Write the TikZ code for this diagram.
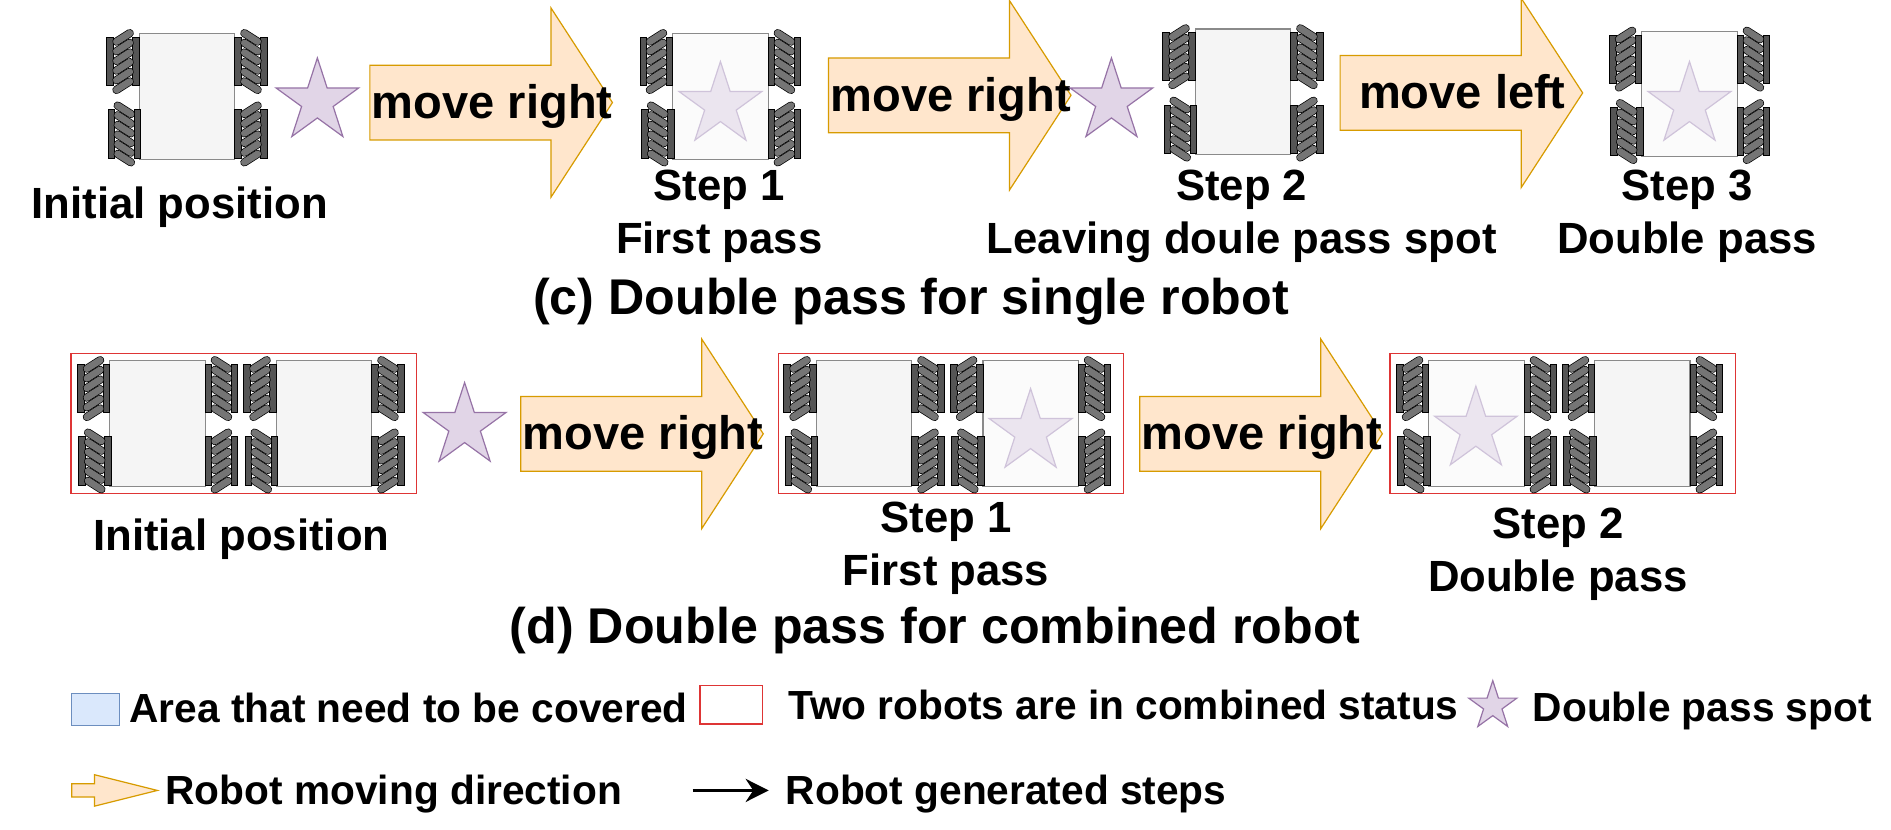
\documentclass[tikz,border=0pt]{standalone}
\usepackage{fontspec}
\setmainfont{Liberation Sans}
\usetikzlibrary{shapes,arrows,arrows.meta,positioning}
\definecolor{bodyfill}{HTML}{F5F5F5}
\definecolor{bodyfade}{HTML}{FBFBFB}
\definecolor{bodyline}{HTML}{8A8A8A}
\definecolor{railgrey}{HTML}{555555}
\definecolor{rollergrey}{HTML}{757575}
\definecolor{movefill}{HTML}{FFE6CC}
\definecolor{moveline}{HTML}{D79B00}
\definecolor{spotfill}{HTML}{E1D5E7}
\definecolor{spotline}{HTML}{9673A6}
\definecolor{spotfade}{HTML}{EBE5EF}
\definecolor{spotfadeline}{HTML}{CFC3DA}
\definecolor{areafill}{HTML}{DAE8FC}
\definecolor{arealine}{HTML}{6C8EBF}
\definecolor{combline}{HTML}{DE3535}
\tikzstyle{movearrow} = [single arrow, draw=moveline, fill=movefill, line width=1pt,
    inner sep=30.5pt, minimum height=201pt, single arrow head extend=47.5pt,
    single arrow head indent=0pt, single arrow tip angle=114, anchor=tail]
\tikzstyle{movetext} = [font=\fontsize{39}{39}\selectfont\bfseries, inner sep=0pt,
    text height=29pt, text depth=3pt]
\tikzstyle{steptext} = [font=\fontsize{36.2}{36}\selectfont\bfseries, inner sep=0pt,
    text height=29pt, text depth=3pt, node distance=44pt]
\tikzstyle{titletext} = [font=\fontsize{41.6}{42}\selectfont\bfseries, inner sep=0pt,
    text height=33pt, text depth=4pt]
\tikzstyle{legendtext} = [font=\fontsize{33.7}{34}\selectfont\bfseries, inner sep=0pt,
    text height=28pt, text depth=4pt, anchor=west]
\tikzstyle{spot} = [star, star points=5, star point ratio=2.618, draw=spotline,
    fill=spotfill, line width=1pt, inner sep=0pt, minimum size=72pt]
\tikzstyle{fadespot} = [spot, draw=spotfadeline, fill=spotfade]
\tikzstyle{combbox} = [draw=combline, line width=1.2pt, inner sep=0pt]
\tikzstyle{roller} = [draw=black, line width=.6pt, double=rollergrey,
    double distance=5.6pt, line cap=round]
\tikzset{
  pics/wheel/.style={code={
    \draw [fill=railgrey, line width=.6pt] (-13.5,-20) rectangle (-8,20);
    \draw [fill=railgrey, line width=.6pt] (8,-20) rectangle (13.5,20);
    \foreach \rollery in {-20,-12,...,20}
      \draw [roller] (-5.5,\rollery+3.5) -- (5.5,\rollery-3.5);
  }},
  pics/robot/.style={code={
    \draw [fill=#1, draw=bodyline, line width=1pt] (-39.5,-52) rectangle (39.5,52);
    \pic at (-53,-29) {wheel};
    \pic[xscale=-1] at (53,-29) {wheel};
    \pic[xscale=-1] at (-52,31) {wheel};
    \pic at (53,31) {wheel};
  }}
}

\begin{document}
\begin{tikzpicture}[x=1pt, y=-1pt, >=latex']
    \useasboundingbox (0,0) rectangle (1567,687);

    % Row (c): the single robot
    \pic (robinit) at (155,80) {robot=bodyfill};
    \node [spot] (spotinit) at (263,84) {};
    \node [movearrow] (moveone) at (306,85) {};
    \node [movetext, right=2pt of moveone.tail] (moveonetext) {move right};
    \pic (robone) at (597,80) {robot=bodyfade};
    \node [fadespot] (spotone) at (597,87) {};
    \node [movearrow] (movetwo) at (686,79) {};
    \node [movetext, right=2pt of movetwo.tail] (movetwotext) {move right};
    \node [spot] (spottwo) at (921,84) {};
    \pic (robtwo) at (1030,76) {robot=bodyfill};
    \node [movearrow] (movethree) at (1110,77) {};
    \node [movetext, right=16pt of movethree.tail] (movethreetext) {move left};
    \pic (robthree) at (1400,78) {robot=bodyfade};
    \node [fadespot] (spotthree) at (1400,87) {};

    % Labels of row (c)
    \node [steptext] (initc) at (149,168) {Initial position};
    \node [steptext] (stepone) at (596,153) {Step 1};
    \node [steptext, below of=stepone] (passone) {First pass};
    \node [steptext] (steptwo) at (1029,153) {Step 2};
    \node [steptext, below of=steptwo] (passtwo) {Leaving doule pass spot};
    \node [steptext] (stepthree) at (1398,153) {Step 3};
    \node [steptext, below of=stepthree] (passthree) {Double pass};
    \node [titletext] (titlec) at (755,246) {(c) Double pass for single robot};

    % Row (d): the combined robot
    \node [combbox, minimum width=286pt, minimum height=116pt] (combinit) at (202,351) {};
    \pic (robinita) at (130.5,351) {robot=bodyfill};
    \pic (robinitb) at (268.5,351) {robot=bodyfill};
    \node [spot] (spotd) at (385,353) {};
    \node [movearrow] (movefour) at (431,359.5) {};
    \node [movetext, right=2pt of movefour.tail] (movefourtext) {move right};
    \node [combbox, minimum width=286pt, minimum height=116pt] (combone) at (788,351) {};
    \pic (robonea) at (716,351) {robot=bodyfill};
    \pic (roboneb) at (854,351) {robot=bodyfade};
    \node [fadespot] (spotdone) at (854,358) {};
    \node [movearrow] (movefive) at (944,359.5) {};
    \node [movetext, right=2pt of movefive.tail] (movefivetext) {move right};
    \node [combbox, minimum width=286pt, minimum height=116pt] (combtwo) at (1295,351) {};
    \pic (robtwoa) at (1223.5,351) {robot=bodyfade};
    \pic (robtwob) at (1361,351) {robot=bodyfill};
    \node [fadespot] (spotdtwo) at (1223,356) {};

    % Labels of row (d)
    \node [steptext] (initd) at (200,443) {Initial position};
    \node [steptext] (stepdone) at (784,428) {Step 1};
    \node [steptext, below of=stepdone] (passdone) {First pass};
    \node [steptext] (stepdtwo) at (1291,433) {Step 2};
    \node [steptext, below of=stepdtwo] (passdtwo) {Double pass};
    \node [titletext] (titled) at (775,519) {(d) Double pass for combined robot};

    % Legend
    \node [draw=arealine, fill=areafill, line width=1pt, minimum width=40pt,
        minimum height=26pt, inner sep=0pt] (legarea) at (79,588) {};
    \node [legendtext] (legareatext) at (107,587) {Area that need to be covered};
    \node [combbox, minimum width=52pt, minimum height=32pt] (legcomb) at (606,584) {};
    \node [legendtext] (legcombtext) at (653,584) {Two robots are in combined status};
    \node [spot, minimum size=42pt] (legspot) at (1237,585) {};
    \node [legendtext] (legspottext) at (1270,586) {Double pass spot};
    \node [single arrow, draw=moveline, fill=movefill, line width=1pt, inner sep=5pt,
        minimum height=71pt, single arrow head extend=7.5pt, single arrow head indent=0pt,
        single arrow tip angle=28, anchor=tail] (legmove) at (59,655) {};
    \node [legendtext] (legmovetext) at (137,655) {Robot moving direction};
    \coordinate (legstepa) at (574,655);
    \coordinate (legstepb) at (637,655);
    \draw [-{Stealth[length=19pt,width=19pt]}, line width=3pt] (legstepa) -- (legstepb);
    \node [legendtext] (legsteptext) at (651,655) {Robot generated steps};
\end{tikzpicture}
\end{document}
